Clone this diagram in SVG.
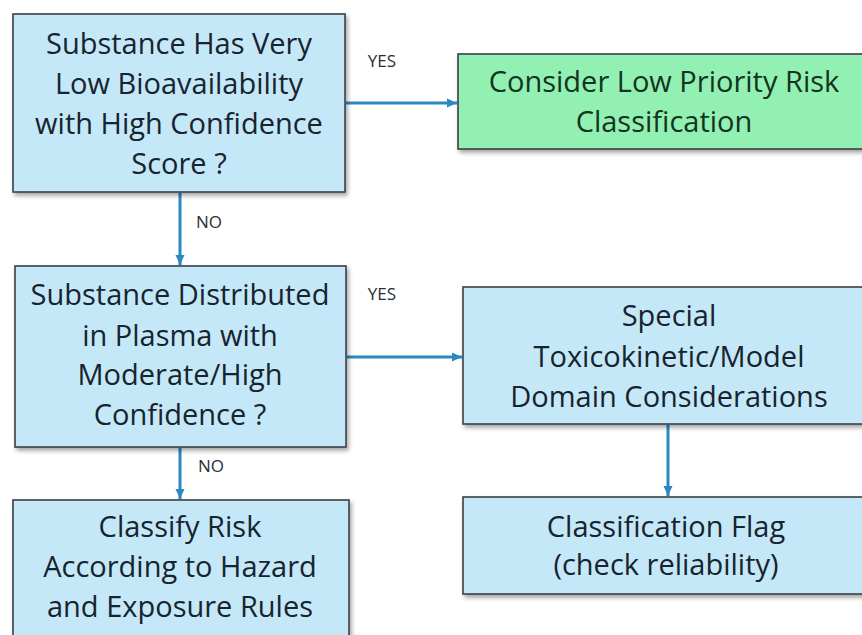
<svg xmlns="http://www.w3.org/2000/svg" width="862" height="635" viewBox="0 0 862 635">
  <style>
    .box { stroke: #3a4046; stroke-width: 1.6; filter: url(#shadow); }
    .blue { fill: #c4e8f8; }
    .green { fill: #93f0b3; }
    .t { font-family: "Open Sans", "Liberation Sans", sans-serif; font-size: 29px; font-weight: 500; fill: #17242e; text-anchor: middle; }
    .tg { fill: #123420; }
    .lbl { font-family: "Open Sans", "Liberation Sans", sans-serif; font-size: 17px; font-weight: 500; fill: #2a2e32; text-anchor: middle; }
    .wire { stroke: #2b88c2; stroke-width: 3; fill: none; marker-end: url(#arrow); }
  </style>
  <defs>
    <filter id="shadow" x="-5%" y="-5%" width="115%" height="120%">
      <feDropShadow dx="2" dy="3" stdDeviation="2" flood-color="#000" flood-opacity="0.35"/>
    </filter>
    <marker id="arrow" markerUnits="userSpaceOnUse" markerWidth="12" markerHeight="12" viewBox="0 0 12 12" refX="11" refY="6" orient="auto">
      <path d="M1,1.5 L11,6 L1,10.5 z" fill="#2b88c2"/>
    </marker>
  </defs>

  <rect width="862" height="635" fill="#ffffff"/>

  <!-- connectors -->
  <g id="connectors">
    <path class="wire" d="M346,103 H457"/>
    <path class="wire" d="M180,193 V265"/>
    <path class="wire" d="M347,357 H462"/>
    <path class="wire" d="M180,448 V499"/>
    <path class="wire" d="M668,425 V496"/>
    <text class="lbl" x="382" y="67">YES</text>
    <text class="lbl" x="209" y="228">NO</text>
    <text class="lbl" x="382" y="300">YES</text>
    <text class="lbl" x="211" y="472">NO</text>
  </g>

  <!-- decision: bioavailability -->
  <g id="q-bioavailability">
    <rect class="box blue" x="13" y="14" width="332" height="178"/>
    <text class="t" x="179" y="54">Substance Has Very</text>
    <text class="t" x="179" y="94">Low Bioavailability</text>
    <text class="t" x="179" y="134">with High Confidence</text>
    <text class="t" x="179" y="174">Score ?</text>
  </g>

  <!-- outcome: low priority -->
  <g id="low-priority">
    <rect class="box green" x="458" y="54" width="420" height="95"/>
    <text class="t tg" x="664" y="92">Consider Low Priority Risk</text>
    <text class="t tg" x="664" y="132">Classification</text>
  </g>

  <!-- decision: plasma distribution -->
  <g id="q-plasma">
    <rect class="box blue" x="15" y="266" width="331" height="181"/>
    <text class="t" x="180" y="305">Substance Distributed</text>
    <text class="t" x="180" y="346">in Plasma with</text>
    <text class="t" x="180" y="385">Moderate/High</text>
    <text class="t" x="180" y="425">Confidence ?</text>
  </g>

  <!-- special considerations -->
  <g id="special">
    <rect class="box blue" x="463" y="287" width="420" height="137"/>
    <text class="t" x="669" y="326">Special</text>
    <text class="t" x="669" y="367">Toxicokinetic/Model</text>
    <text class="t" x="669" y="407">Domain Considerations</text>
  </g>

  <!-- classify by rules -->
  <g id="classify">
    <rect class="box blue" x="13" y="500" width="336" height="160"/>
    <text class="t" x="180" y="537">Classify Risk</text>
    <text class="t" x="180" y="577">According to Hazard</text>
    <text class="t" x="180" y="617">and Exposure Rules</text>
  </g>

  <!-- classification flag -->
  <g id="flag">
    <rect class="box blue" x="463" y="497" width="420" height="97"/>
    <text class="t" x="666" y="537">Classification Flag</text>
    <text class="t" x="666" y="575">(check reliability)</text>
  </g>
</svg>
